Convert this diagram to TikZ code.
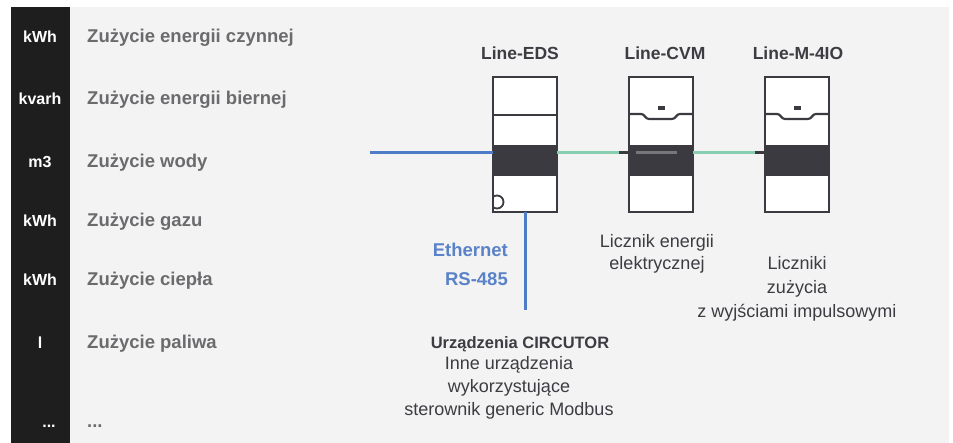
\documentclass[tikz,border=0pt]{standalone}
\usepackage{fontspec}
\setmainfont{Liberation Sans}
\usetikzlibrary{calc}
\definecolor{panel}{HTML}{F3F3F3}
\definecolor{sidebar}{HTML}{1E1E1E}
\definecolor{labelgray}{HTML}{6B6B6E}
\definecolor{ink}{HTML}{3C3C42}
\definecolor{devframe}{HTML}{3A3A40}
\definecolor{netblue}{HTML}{4F7CC6}
\definecolor{nettext}{HTML}{5A82C8}
\definecolor{busgreen}{HTML}{88CFB2}
\definecolor{lcdbar}{HTML}{77777B}
\begin{document}
\begin{tikzpicture}[x=1pt,y=-1pt,
  unitlbl/.style={text=white, font=\bfseries\fontsize{16}{19}\selectfont, anchor=base, inner sep=0pt},
  qtylbl/.style={text=labelgray, font=\bfseries\fontsize{18.5}{22}\selectfont, anchor=base west, inner sep=0pt},
  devtitle/.style={text=ink, font=\bfseries\fontsize{17.5}{21}\selectfont, anchor=base, inner sep=0pt},
  desc/.style={text=ink, font=\fontsize{18}{22}\selectfont, anchor=base, inner sep=0pt},
  nettag/.style={text=nettext, font=\bfseries\fontsize{18.5}{22}\selectfont, anchor=base east, inner sep=0pt},
  meter/.style={draw=devframe, line width=2pt, fill=white, minimum width=64pt, minimum height=135pt, inner sep=0pt, outer sep=0pt},
  ethwire/.style={netblue, line width=3pt},
  buswire/.style={busgreen, line width=3pt},
  stub/.style={devframe, line width=3pt},
]
\useasboundingbox (0,0) rectangle (953,443);
% background panel and unit column
\fill[panel] (11,7) rectangle (949,443);
\fill[sidebar] (11,7) rectangle (70,443);

% units and measured quantities
\node[unitlbl] (u1) at (40,43) {kWh};
\node[unitlbl] (u2) at (40,105) {kvarh};
\node[unitlbl] (u3) at (40,168) {m3};
\node[unitlbl] (u4) at (40,227) {kWh};
\node[unitlbl] (u5) at (40,286) {kWh};
\node[unitlbl] (u6) at (40,349) {l};
\node[unitlbl] (u7) at (49,427) {...};
\node[qtylbl] (q1) at (87,43) {Zużycie energii czynnej};
\node[qtylbl] (q2) at (87,105) {Zużycie energii biernej};
\node[qtylbl] (q3) at (87,168) {Zużycie wody};
\node[qtylbl] (q4) at (87,227) {Zużycie gazu};
\node[qtylbl] (q5) at (87,286) {Zużycie ciepła};
\node[qtylbl] (q6) at (87,349) {Zużycie paliwa};
\node[qtylbl] (q7) at (87,427) {...};

% DIN-rail modules
\node[meter] (eds) at (525,144.5) {};
\node[meter] (cvm) at (661,144.5) {};
\node[meter] (m4io) at (797,144.5) {};
\foreach \d in {eds,cvm,m4io} {
  \fill[devframe] ($(\d.north west)+(-1,68)$) rectangle ($(\d.north east)+(1,99)$);
}
\draw[devframe, line width=2pt] ($(eds.north west)+(0,38)$) -- ($(eds.north east)+(0,38)$);
\foreach \d in {cvm,m4io} {
  \draw[devframe, line width=2.2pt] ($(\d.north west)+(0,37)$) -- ++(12,0)
    .. controls +(4,0) and +(-4,0) .. ++(8,5) -- ++(23,0)
    .. controls +(4,0) and +(-4,0) .. ++(8,-5) -- ($(\d.north east)+(0,37)$);
  \fill[devframe] ($(\d.north)+(-3.5,29.5)$) rectangle ++(7,3.5);
}
\draw[lcdbar, line width=3pt] ($(cvm.north west)+(7,76)$) -- ++(41,0);
% RJ45 latch outline on the Line-EDS base
\begin{scope}
  \clip (eds.north west) rectangle (eds.south east);
  \draw[devframe, line width=1.8pt] ($(eds.south west)+(4,-10)$) circle (6.5);
\end{scope}

% titles
\node[devtitle] (teds) at (520,60) {Line-EDS};
\node[devtitle] (tcvm) at (665,60) {Line-CVM};
\node[devtitle] (tm4io) at (798,60) {Line-M-4IO};

% wiring
\coordinate (lan) at (370,153);
\coordinate (rsend) at (526,310);
\draw[ethwire] (lan) -- (lan -| eds.west);
\draw[ethwire] (eds.south) -- (eds.south |- rsend);
\draw[buswire] (lan -| eds.east) -- (lan -| cvm.west);
\draw[buswire] (lan -| cvm.east) -- (lan -| m4io.west);
\draw[stub] ($(lan -| cvm.west)+(-10,0)$) -- (lan -| cvm.west);
\draw[stub] ($(lan -| m4io.west)+(-10,0)$) -- (lan -| m4io.west);

% captions
\node[nettag] (eth) at (508,257) {Ethernet};
\node[nettag] (rs) at (508,286) {RS-485};
\node[desc] (c1a) at (657,248) {Licznik energii};
\node[desc] (c1b) at (657,270) {elektrycznej};
\node[desc] (c2a) at (797,270) {Liczniki};
\node[desc] (c2b) at (797,294) {zużycia};
\node[desc] (c2c) at (797,318) {z wyjściami impulsowymi};
\node[desc, font=\bfseries\fontsize{16.5}{20}\selectfont] (c3a) at (520,349) {Urządzenia CIRCUTOR};
\node[desc] (c3b) at (509,370) {Inne urządzenia};
\node[desc] (c3c) at (509,392) {wykorzystujące};
\node[desc] (c3d) at (509,416) {sterownik generic Modbus};
\end{tikzpicture}
\end{document}
